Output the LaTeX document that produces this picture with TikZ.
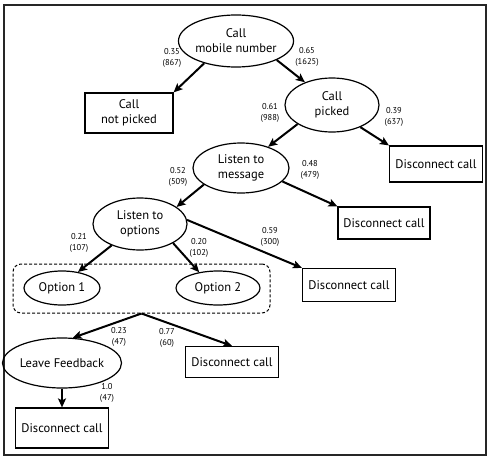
\documentclass[tikz,border=0pt]{standalone}
\usepackage{fontspec}
\setmainfont{PT Sans}
\usetikzlibrary{arrows.meta}
\usetikzlibrary{shapes.geometric}
\begin{document}
\begin{tikzpicture}[x=1pt,y=-1pt,
  state/.style={draw,ellipse,line width=1.2pt,inner sep=0pt,align=center,font=\fontsize{12.5}{15}\selectfont},
  endbox/.style={draw,rectangle,line width=1.2pt,inner sep=0pt,align=center,font=\fontsize{12.5}{15}\selectfont},
  prob/.style={align=center,inner sep=0pt,font=\fontsize{8.5}{11.5}\selectfont},
  flow/.style={-{Stealth[length=9pt,width=8pt,inset=2pt]},line width=2pt}]
\useasboundingbox (0,0) rectangle (492,463);
\draw[line width=1.6pt,color=black!85] (4,5) rectangle (486,455);
% states
\node[state,minimum width=102pt,minimum height=52pt] (mobile) at (236,41) {Call\\mobile number};
\node[state,minimum width=94pt,minimum height=54pt] (picked) at (332,105) {Call\\picked};
\node[state,minimum width=96pt,minimum height=50pt] (message) at (241,168) {Listen to\\message};
\node[state,minimum width=94pt,minimum height=52pt] (options) at (140,224) {Listen to\\options};
\node[draw,dash pattern=on 3pt off 2pt,rounded corners=8pt,line width=1pt,minimum width=257pt,minimum height=49pt] (choice) at (141.5,288.5) {};
\node[state,minimum width=76pt,minimum height=34pt] (opta) at (62,288) {Option 1};
\node[state,minimum width=84pt,minimum height=34pt] (optb) at (218,288) {Option 2};
\node[state,minimum width=95pt,minimum height=50pt] (feedback) at (62,363) {Leave Feedback};
% end boxes
\node[endbox,minimum width=88pt,minimum height=40pt] (notpicked) at (129,113) {Call\\not picked};
\node[endbox,minimum width=93pt,minimum height=36pt] (disca) at (436,164) {Disconnect call};
\node[endbox,minimum width=92pt,minimum height=32pt] (discb) at (384,223) {Disconnect call};
\node[endbox,minimum width=93pt,minimum height=33pt] (discc) at (349,285) {Disconnect call};
\node[endbox,minimum width=93pt,minimum height=31pt] (discd) at (232,362) {Disconnect call};
\node[endbox,minimum width=93pt,minimum height=40pt] (disce) at (62,428) {Disconnect call};
% arrows
\draw[flow] (mobile.215) -- (notpicked.north east);
\draw[flow] (mobile.335) -- (picked.140);
\draw[flow] (picked.322) -- (disca.north west);
\draw[flow] (picked.209) -- (message.38);
\draw[flow] (message.342) -- (discb.north west);
\draw[flow] (message.204) -- (options.25);
\draw[flow] (options.5) -- (discc.north west);
\draw[flow] (options.217) -- (opta.45);
\draw[flow] (options.330) -- (optb.140);
\draw[flow] (choice.south) -- (feedback.67);
\draw[flow] (choice.south) -- (discd.north);
\draw[flow] (feedback.south) -- (disce.north);
% probabilities
\node[prob] (pa) at (172,58) {0.35\\(867)};
\node[prob] (pb) at (307,57) {0.65\\(1625)};
\node[prob] (pc) at (270,113) {0.61\\(988)};
\node[prob] (pd) at (394,117) {0.39\\(637)};
\node[prob] (pe) at (178,177) {0.52\\(509)};
\node[prob] (pf) at (310,170) {0.48\\(479)};
\node[prob] (pg) at (79,243) {0.21\\(107)};
\node[prob] (ph) at (199,248) {0.20\\(102)};
\node[prob] (pi) at (270,237) {0.59\\(300)};
\node[prob] (pj) at (119,337) {0.23\\(47)};
\node[prob] (pk) at (167,338) {0.77\\(60)};
\node[prob] (pl) at (107,393) {1.0\\(47)};
\end{tikzpicture}
\end{document}
